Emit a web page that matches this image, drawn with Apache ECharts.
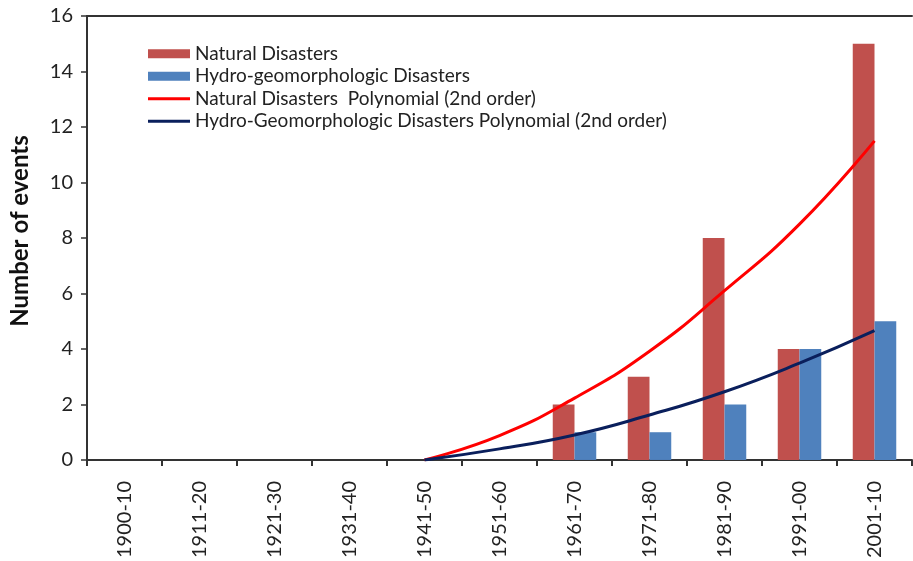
<!DOCTYPE html>
<html>
<head>
<meta charset="utf-8">
<script src="https://cdn.jsdelivr.net/npm/echarts@6/dist/echarts.min.js"></script>
<style>
  html, body { margin: 0; padding: 0; background: #fff; }
  #chart { width: 913px; height: 561px; }
</style>
</head>
<body>
<div id="chart"></div>
<script>
// decades on the x axis
var decades = ['1900-10', '1911-20', '1921-30', '1931-40', '1941-50', '1951-60',
  '1961-70', '1971-80', '1981-90', '1991-00', '2001-10'];
// event counts
var naturalCounts = [0, 0, 0, 0, 0, 0, 2, 3, 8, 4, 15];
var hydroCounts = [0, 0, 0, 0, 0, 0, 1, 1, 2, 4, 5];
// trend lines (start at 1941-50)
var naturalTrend = [null, null, null, null, 0, 0.88, 2.23, 3.92, 6.1, 8.5, 11.5];
var hydroTrend = [null, null, null, null, 0, 0.4, 0.9, 1.62, 2.46, 3.49, 4.66];
var yTicks = [0, 16, 2]; // min, max, interval

var font = 'Lato';
var lineIcon = 'path://M0,0L42,0L42,3L0,3Z';
var chart = echarts.init(document.getElementById('chart'));

chart.setOption({
  animation: false,
  textStyle: { fontFamily: font },
  grid: { left: 85, right: 1, top: 16, bottom: 101 },
  legend: {
    orient: 'vertical',
    left: 143,
    top: 38,
    itemWidth: 42,
    itemHeight: 9,
    itemGap: 1,
    symbolKeepAspect: true,
    textStyle: { fontSize: 19, lineHeight: 21.5, color: '#222', fontFamily: font },
    data: [
      { name: 'Natural Disasters', icon: 'rect' },
      { name: 'Hydro-geomorphologic Disasters', icon: 'rect' },
      { name: 'Natural Disasters  Polynomial (2nd order)', icon: lineIcon },
      { name: 'Hydro-Geomorphologic Disasters Polynomial (2nd order)', icon: lineIcon }
    ]
  },
  xAxis: [
    {
      type: 'category',
      data: decades,
      axisLine: { lineStyle: { color: '#333', width: 2 } },
      axisTick: { show: true, length: 6, lineStyle: { color: '#333', width: 2 } },
      axisLabel: { rotate: 90, fontSize: 20, color: '#222', margin: 21, interval: 0 }
    },
    {
      // top frame line
      type: 'category',
      position: 'top',
      data: decades,
      axisLine: { lineStyle: { color: '#333', width: 2 } },
      axisTick: { show: false },
      axisLabel: { show: false }
    }
  ],
  yAxis: {
    type: 'value',
    min: yTicks[0],
    max: yTicks[1],
    interval: yTicks[2],
    name: 'Number of events',
    nameLocation: 'middle',
    nameGap: 55,
    nameTextStyle: { fontSize: 24, fontWeight: 'bold', color: '#111', fontFamily: font, padding: [0, 0, 0, 14] },
    axisLine: { show: true, lineStyle: { color: '#333', width: 2 } },
    axisTick: { show: true, length: 6, lineStyle: { color: '#333', width: 1.5 } },
    axisLabel: { fontSize: 20, color: '#222', margin: 14 },
    splitLine: { show: false }
  },
  series: [
    {
      name: 'Natural Disasters',
      type: 'bar',
      data: naturalCounts,
      barGap: '0%',
      barCategoryGap: '42%',
      itemStyle: { color: '#C0504D' }
    },
    {
      name: 'Hydro-geomorphologic Disasters',
      type: 'bar',
      data: hydroCounts,
      itemStyle: { color: '#4F81BD' }
    },
    {
      name: 'Natural Disasters  Polynomial (2nd order)',
      type: 'line',
      data: naturalTrend,
      smooth: 0.5,
      symbol: 'none',
      lineStyle: { color: '#FF0000', width: 3 },
      itemStyle: { color: '#FF0000' },
      z: 5
    },
    {
      name: 'Hydro-Geomorphologic Disasters Polynomial (2nd order)',
      type: 'line',
      data: hydroTrend,
      smooth: 0.5,
      symbol: 'none',
      lineStyle: { color: '#0A1F5C', width: 3 },
      itemStyle: { color: '#0A1F5C' },
      z: 5
    }
  ]
});
</script>
</body>
</html>
